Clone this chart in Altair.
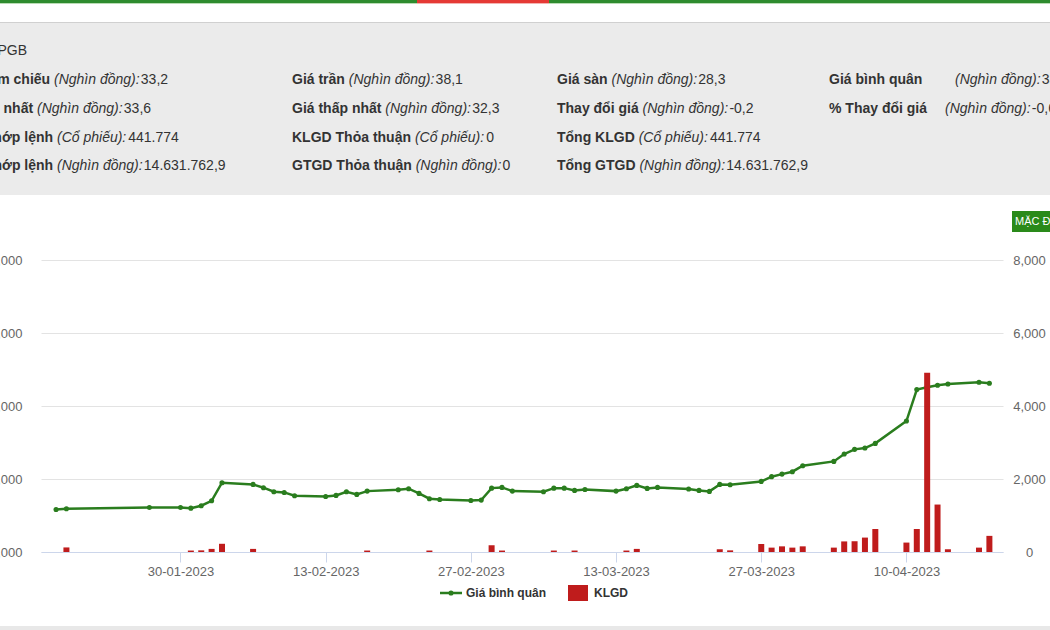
import unicodedata
import altair as alt
import pandas as pd

# ---------------- data ----------------
dates = [
    "2023-01-18", "2023-01-19", "2023-01-27", "2023-01-30", "2023-01-31", "2023-02-01", "2023-02-02", "2023-02-03",
    "2023-02-06", "2023-02-07", "2023-02-08", "2023-02-09", "2023-02-10",
    "2023-02-13", "2023-02-14", "2023-02-15", "2023-02-16", "2023-02-17",
    "2023-02-20", "2023-02-21", "2023-02-22", "2023-02-23", "2023-02-24",
    "2023-02-27", "2023-02-28", "2023-03-01", "2023-03-02", "2023-03-03",
    "2023-03-06", "2023-03-07", "2023-03-08", "2023-03-09", "2023-03-10",
    "2023-03-13", "2023-03-14", "2023-03-15", "2023-03-16", "2023-03-17",
    "2023-03-20", "2023-03-21", "2023-03-22", "2023-03-23", "2023-03-24",
    "2023-03-27", "2023-03-28", "2023-03-29", "2023-03-30", "2023-03-31",
    "2023-04-03", "2023-04-04", "2023-04-05", "2023-04-06", "2023-04-07",
    "2023-04-10", "2023-04-11", "2023-04-12", "2023-04-13", "2023-04-14",
    "2023-04-17", "2023-04-18",
]
# Giá bình quân (đồng)
prices = [
    15830, 15930, 16100, 16100, 16010, 16340, 17020, 19490,
    19260, 18810, 18260, 18160, 17710,
    17610, 17750, 18260, 17890, 18340,
    18530, 18670, 18030, 17300, 17200,
    17060, 17110, 18750, 18850, 18340,
    18260, 18750, 18750, 18440, 18570,
    18340, 18670, 19120, 18710, 18850,
    18620, 18440, 18300, 19260, 19220,
    19670, 20320, 20670, 21000, 21820,
    22410, 23420, 24060, 24240, 24880,
    27940, 32250, 32570, 32840, 33020,
    33250, 33110,
]
# KLGD (nghìn cổ phiếu)
volumes = [
    0, 125, 0, 0, 40, 45, 85, 225,
    85, 0, 0, 0, 0,
    0, 0, 0, 0, 40,
    0, 0, 0, 40, 0,
    0, 0, 185, 40, 0,
    0, 40, 0, 40, 0,
    0, 40, 85, 0, 0,
    0, 0, 0, 75, 45,
    220, 120, 155, 120, 155,
    120, 290, 295, 395, 630,
    258, 630, 4910, 1300, 75,
    120, 442,
]
x_tick_dates = [(1, 30), (2, 13), (2, 27), (3, 13), (3, 27), (4, 10)]
price_ticks = [10000, 20000, 30000, 40000, 50000]
volume_ticks = [0, 2000, 4000, 6000, 8000]

# header texts
ticker_line = "Mã CK: PGB"
col1_labels = ["Giá tham chiếu", "Giá cao nhất", "KLGD khớp lệnh", "GTGD khớp lệnh"]
col1_units = ["(Nghìn đồng):", "(Nghìn đồng):", "(Cổ phiếu):", "(Nghìn đồng):"]
col1_values = ["33,2", "33,6", "441.774", "14.631.762,9"]
col2_labels = ["Giá trần", "Giá thấp nhất", "KLGD Thỏa thuận", "GTGD Thỏa thuận"]
col2_units = ["(Nghìn đồng):", "(Nghìn đồng):", "(Cổ phiếu):", "(Nghìn đồng):"]
col2_values = ["38,1", "32,3", "0", "0"]
col3_labels = ["Giá sàn", "Thay đổi giá", "Tổng KLGD", "Tổng GTGD"]
col3_units = ["(Nghìn đồng):", "(Nghìn đồng):", "(Cổ phiếu):", "(Nghìn đồng):"]
col3_values = ["28,3", "-0,2", "441.774", "14.631.762,9"]
col4_labels = ["Giá bình quân", "% Thay đổi giá"]
col4_units = ["(Nghìn đồng):", "(Nghìn đồng):"]
col4_values = ["33,1", "-0,6"]
legend_names = ["Giá bình quân", "KLGD"]
button_text = "MẶC ĐỊNH"

# ---------------- layout (page pixels) ----------------
OX, OY = 41, 260          # plot-area origin on the page
W, H = 962, 292           # plot-area size
FONT = "Liberation Sans, Arial, sans-serif"
GREEN = "#2a7d1e"
RED = "#bf1c1c"
TXT = "#333333"
AX = "#666666"
HS = 14                   # header font size

row_y = [80, 108.5, 137.5, 166]
ticker_y = 51
ticker_end = 27
col1_unit_x = [54, 37, 57, 57]
col2_x = 292
col3_x = 557
col4_x = 829
col4_unit_x = [955, 945]

# approximate Arial / Liberation Sans advance widths (per 1000 em) for text placement
_REG = {" ": 278, "(": 333, ")": 333, ":": 278, ",": 278, ".": 278, "-": 333, "%": 889,
        "A": 667, "B": 667, "C": 722, "D": 722, "G": 778, "K": 667, "L": 556, "N": 722,
        "P": 667, "T": 611, "a": 556, "b": 556, "c": 500, "d": 556, "e": 556, "g": 556,
        "h": 556, "i": 222, "k": 500, "l": 222, "m": 833, "n": 556, "o": 556, "p": 556,
        "q": 556, "r": 333, "s": 500, "t": 278, "u": 556, "y": 500}
_BOLD = {" ": 278, "(": 333, ")": 333, ":": 333, ",": 278, ".": 278, "-": 333, "%": 889,
         "C": 722, "D": 722, "G": 778, "K": 722, "L": 611, "T": 611, "a": 556, "b": 611,
         "c": 556, "d": 611, "e": 556, "g": 611, "h": 611, "i": 278, "k": 556, "l": 278,
         "m": 889, "n": 611, "o": 611, "p": 611, "q": 611, "r": 389, "s": 556, "t": 333,
         "u": 611, "y": 556}


def tw(s, size, bold=False):
    table = _BOLD if bold else _REG
    w = 0
    for ch in s:
        base = {"đ": "d", "Đ": "D"}.get(ch, unicodedata.normalize("NFD", ch)[0])
        w += table.get(base, 556)
    return w * size / 1000


one = pd.DataFrame({"a": [0]})


def rect(x0, y0, x1, y1, color):
    return alt.Chart(one).mark_rect(color=color).encode(
        x=alt.value(x0 - OX), x2=alt.value(x1 - OX),
        y=alt.value(y0 - OY), y2=alt.value(y1 - OY))


def texts(rows, size=HS, **kw):
    df = pd.DataFrame([(t, x - OX, y - OY) for t, x, y in rows], columns=["t", "x", "y"])
    return alt.Chart(df).mark_text(font=FONT, fontSize=size, baseline="middle", **kw).encode(
        x=alt.X("x:Q", scale=None, axis=None),
        y=alt.Y("y:Q", scale=None, axis=None),
        text="t:N")


# decorations
decor = [
    rect(0, 0, 1050, 3, "#2e8b2e"),
    rect(0, 3, 1050, 4, "#b9dcb4"),
    rect(417, 0, 549, 3, "#e53935"),
    rect(417, 3, 549, 4, "#f3b3b1"),
    rect(0, 22, 1050, 195, "#ebebeb"),
    rect(0, 22, 1050, 23, "#d0d0d0"),
    rect(0, 626, 1050, 630, "#e8e8e8"),
    rect(1012, 211, 1050, 232, "#2a8a1a"),
]

# header (label bold, unit italic, value regular)
bold_left, bold_right, ital, norm, norm_right = [], [], [], [], []
norm_right.append((ticker_line, ticker_end, ticker_y))
space = tw(" ", HS)
for i in range(4):
    y = row_y[i]
    # column 1 (cut off by the left edge): anchored on the unit
    ux = col1_unit_x[i]
    bold_right.append((col1_labels[i], ux - space, y))
    ital.append((col1_units[i], ux, y))
    norm.append((col1_values[i], ux + tw(col1_units[i], HS) + 2, y))
    # columns 2 and 3: text flows from the column start
    for cx, labs, units, vals in ((col2_x, col2_labels, col2_units, col2_values),
                                  (col3_x, col3_labels, col3_units, col3_values)):
        bold_left.append((labs[i], cx, y))
        ux = cx + tw(labs[i], HS, bold=True) + space
        ital.append((units[i], ux, y))
        norm.append((vals[i], ux + tw(units[i], HS) + 2, y))
for i in range(2):
    y = row_y[i]
    bold_left.append((col4_labels[i], col4_x, y))
    ux = col4_unit_x[i]
    ital.append((col4_units[i], ux, y))
    norm.append((col4_values[i], ux + tw(col4_units[i], HS) + 2, y))

header = [
    texts(bold_left, align="left", fontWeight="bold", color=TXT),
    texts(bold_right, align="right", fontWeight="bold", color=TXT),
    texts(ital, align="left", fontStyle="italic", color=TXT),
    texts(norm, align="left", color=TXT),
    texts(norm_right, align="right", color=TXT),
    texts([(button_text, 1015, 221.5)], size=11, align="left", color="white"),
]

# main chart
df = pd.DataFrame({"date": dates, "price": prices, "volume": volumes})

x_enc = alt.X(
    "date:T",
    scale=alt.Scale(type="utc", padding=0, domain=[
        alt.DateTime(year=2023, month=1, date=16, hours=13, minutes=10, utc=True),
        alt.DateTime(year=2023, month=4, date=19, hours=7, minutes=30, utc=True)]),
    axis=alt.Axis(
        values=[alt.DateTime(year=2023, month=m, date=d, utc=True) for m, d in x_tick_dates],
        format="%d-%m-%Y", title=None, grid=False,
        domainColor="#ccd6eb", tickColor="#ccd6eb", tickSize=10, labelPadding=3,
        labelFont=FONT, labelFontSize=13, labelColor=AX))

line = alt.Chart(df).mark_line(
    color=GREEN, strokeWidth=2.5,
    point=alt.OverlayMarkDef(filled=True, color=GREEN, size=26, opacity=1),
).encode(
    x=x_enc,
    y=alt.Y("price:Q",
            scale=alt.Scale(domain=[10000, 50000], nice=False, zero=False),
            axis=alt.Axis(orient="left", values=price_ticks, format=",.0f", title=None,
                          domain=False, ticks=False, tickSize=0, labelPadding=19,
                          grid=True, gridColor="#e3e3e3", gridWidth=1,
                          labelFont=FONT, labelFontSize=13, labelColor=AX)),
)

bars = alt.Chart(df).mark_bar(color=RED, width=6).encode(
    x=x_enc,
    y=alt.Y("volume:Q",
            scale=alt.Scale(domain=[0, 8000], nice=False),
            axis=alt.Axis(orient="right", values=volume_ticks, format=",.0f", title=None,
                          domain=False, ticks=False, tickSize=0, labelPadding=26,
                          labelAlign="center",
                          grid=False, labelFont=FONT, labelFontSize=13, labelColor=AX)),
)

# legend (drawn by hand to match the reference position)
legend = [
    alt.Chart(one).mark_rule(color=GREEN, strokeWidth=2.5).encode(
        x=alt.value(440 - OX), x2=alt.value(462 - OX), y=alt.value(593 - OY)),
    alt.Chart(one).mark_point(filled=True, color=GREEN, size=26, opacity=1).encode(
        x=alt.value(451 - OX), y=alt.value(593 - OY)),
    texts([(legend_names[0], 466, 593)], size=12, align="left", fontWeight="bold", color=TXT),
    rect(568, 585, 588, 601, RED),
    texts([(legend_names[1], 594, 593)], size=12, align="left", fontWeight="bold", color=TXT),
]

chart = alt.layer(*decor, *header, line, bars, *legend).resolve_scale(
    y="independent"
).properties(
    width=W, height=H,
    padding={"left": OX, "right": 1050 - OX - W, "top": OY, "bottom": 630 - OY - H},
    autosize=alt.AutoSizeParams(type="none"),
    background="white",
).configure_view(strokeWidth=0)

chart.save("out.html", embed_options={"renderer": "svg", "actions": False})
